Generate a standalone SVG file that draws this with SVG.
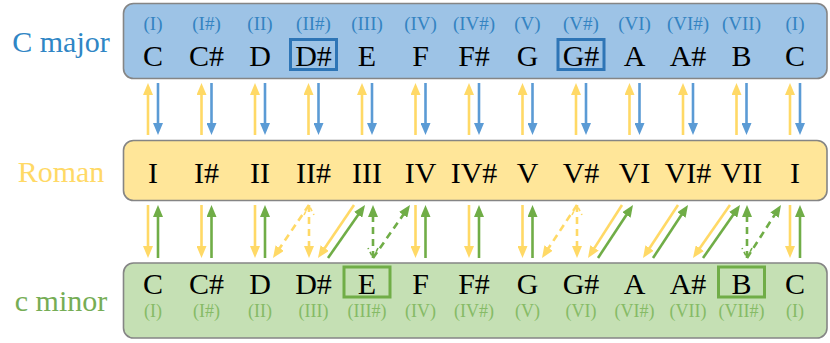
<svg xmlns="http://www.w3.org/2000/svg" width="830" height="343" viewBox="0 0 830 343" font-family="'Liberation Serif', 'Times New Roman', Times, serif">
<defs>
<style>
text{font-family:'Liberation Serif','Times New Roman',Times,serif;text-anchor:middle}
.box{stroke:#858585;stroke-width:1.6}
.big{font-size:30px;fill:#000}
.side{font-size:30px}
.rt{font-size:19px;fill:#3483c2}
.rb{font-size:18px;fill:#86bb66}
.hb{fill:none;stroke:#2e75b6;stroke-width:3}
.hg{fill:none;stroke:#70ad47;stroke-width:3}
.a{stroke-width:2.6;fill:none}
.y{stroke:#ffd966}
.b{stroke:#5b9bd5}
.g{stroke:#70ad47}
.d{stroke-dasharray:7 5}
.uy{marker-end:url(#mY)}
.ub{marker-end:url(#mB)}
.ug{marker-end:url(#mG)}
</style>
<marker id="mY" viewBox="0 0 12 10" refX="2" refY="5" markerWidth="12" markerHeight="10" markerUnits="userSpaceOnUse" orient="auto"><path d="M0,0 L12,5 L0,10 z" fill="#ffd966"/></marker>
<marker id="mB" viewBox="0 0 12 10" refX="2" refY="5" markerWidth="12" markerHeight="10" markerUnits="userSpaceOnUse" orient="auto"><path d="M0,0 L12,5 L0,10 z" fill="#5b9bd5"/></marker>
<marker id="mG" viewBox="0 0 12 10" refX="2" refY="5" markerWidth="12" markerHeight="10" markerUnits="userSpaceOnUse" orient="auto"><path d="M0,0 L12,5 L0,10 z" fill="#70ad47"/></marker>
<marker id="cY" viewBox="-1 -1 12 12" refX="10" refY="5" markerWidth="12" markerHeight="12" markerUnits="userSpaceOnUse" orient="auto-start-reverse"><path d="M0,0 L10,5 L0,10" fill="none" stroke="#ffd966" stroke-width="1.6" stroke-dasharray="4 3"/></marker>
<marker id="cG" viewBox="-1 -1 12 12" refX="10" refY="5" markerWidth="12" markerHeight="12" markerUnits="userSpaceOnUse" orient="auto-start-reverse"><path d="M0,0 L10,5 L0,10" fill="none" stroke="#70ad47" stroke-width="1.6" stroke-dasharray="4 3"/></marker>
</defs>
<rect width="830" height="343" fill="#fff"/>

<g id="c-major">
<rect class="box" x="123.5" y="3.5" width="703.5" height="75" rx="10" fill="#9dc3e6"/>
<text class="side" x="61" y="52" fill="#2f86c5">C major</text>
<g class="rt">
<text x="153" y="30">(I)</text><text x="206.5" y="30">(I#)</text><text x="260" y="30">(II)</text><text x="313.5" y="30">(II#)</text><text x="367" y="30">(III)</text><text x="420.5" y="30">(IV)</text><text x="474" y="30">(IV#)</text><text x="527.5" y="30">(V)</text><text x="581" y="30">(V#)</text><text x="634.5" y="30">(VI)</text><text x="688" y="30">(VI#)</text><text x="741.5" y="30">(VII)</text><text x="795" y="30">(I)</text>
</g>
<g class="big">
<text x="153" y="66">C</text><text x="206.5" y="66">C#</text><text x="260" y="66">D</text><text x="313.5" y="66">D#</text><text x="367" y="66">E</text><text x="420.5" y="66">F</text><text x="474" y="66">F#</text><text x="527.5" y="66">G</text><text x="581" y="66">G#</text><text x="634.5" y="66">A</text><text x="688" y="66">A#</text><text x="741.5" y="66">B</text><text x="795" y="66">C</text>
</g>
<rect class="hb" x="290.5" y="39.5" width="46" height="30"/>
<rect class="hb" x="558" y="39.5" width="46" height="30"/>
</g>

<g id="roman">
<rect class="box" x="123.5" y="140.5" width="703.5" height="60" rx="10" fill="#ffe699"/>
<text class="side" x="61" y="182" fill="#ffd966">Roman</text>
<g class="big">
<text x="153" y="183">I</text><text x="206.5" y="183">I#</text><text x="260" y="183">II</text><text x="313.5" y="183">II#</text><text x="367" y="183">III</text><text x="420.5" y="183">IV</text><text x="474" y="183">IV#</text><text x="527.5" y="183">V</text><text x="581" y="183">V#</text><text x="634.5" y="183">VI</text><text x="688" y="183">VI#</text><text x="741.5" y="183">VII</text><text x="795" y="183">I</text>
</g>
</g>

<g id="c-minor">
<rect class="box" x="123.5" y="263" width="703.5" height="75" rx="10" fill="#c5e0b4"/>
<text class="side" x="61" y="311" fill="#76ad55">c minor</text>
<g class="big">
<text x="153" y="293.5">C</text><text x="206.5" y="293.5">C#</text><text x="260" y="293.5">D</text><text x="313.5" y="293.5">D#</text><text x="367" y="293.5">E</text><text x="420.5" y="293.5">F</text><text x="474" y="293.5">F#</text><text x="527.5" y="293.5">G</text><text x="581" y="293.5">G#</text><text x="634.5" y="293.5">A</text><text x="688" y="293.5">A#</text><text x="741.5" y="293.5">B</text><text x="795" y="293.5">C</text>
</g>
<g class="rb">
<text x="153" y="317">(I)</text><text x="206.5" y="317">(I#)</text><text x="260" y="317">(II)</text><text x="313.5" y="317">(III)</text><text x="367" y="317">(III#)</text><text x="420.5" y="317">(IV)</text><text x="474" y="317">(IV#)</text><text x="527.5" y="317">(V)</text><text x="581" y="317">(VI)</text><text x="634.5" y="317">(VI#)</text><text x="688" y="317">(VII)</text><text x="741.5" y="317">(VII#)</text><text x="795" y="317">(I)</text>
</g>
<rect class="hg" x="344" y="267" width="46" height="30"/>
<rect class="hg" x="718.5" y="267" width="46" height="30"/>
</g>

<g id="connectors">
<g class="a">
<line class="y uy" x1="148" y1="135" x2="148" y2="93"/><line class="b ub" x1="158" y1="83" x2="158" y2="125"/>
<line class="y uy" x1="201.5" y1="135" x2="201.5" y2="93"/><line class="b ub" x1="211.5" y1="83" x2="211.5" y2="125"/>
<line class="y uy" x1="255" y1="135" x2="255" y2="93"/><line class="b ub" x1="265" y1="83" x2="265" y2="125"/>
<line class="y uy" x1="308.5" y1="135" x2="308.5" y2="93"/><line class="b ub" x1="318.5" y1="83" x2="318.5" y2="125"/>
<line class="y uy" x1="362" y1="135" x2="362" y2="93"/><line class="b ub" x1="372" y1="83" x2="372" y2="125"/>
<line class="y uy" x1="415.5" y1="135" x2="415.5" y2="93"/><line class="b ub" x1="425.5" y1="83" x2="425.5" y2="125"/>
<line class="y uy" x1="469" y1="135" x2="469" y2="93"/><line class="b ub" x1="479" y1="83" x2="479" y2="125"/>
<line class="y uy" x1="522.5" y1="135" x2="522.5" y2="93"/><line class="b ub" x1="532.5" y1="83" x2="532.5" y2="125"/>
<line class="y uy" x1="576" y1="135" x2="576" y2="93"/><line class="b ub" x1="586" y1="83" x2="586" y2="125"/>
<line class="y uy" x1="629.5" y1="135" x2="629.5" y2="93"/><line class="b ub" x1="639.5" y1="83" x2="639.5" y2="125"/>
<line class="y uy" x1="683" y1="135" x2="683" y2="93"/><line class="b ub" x1="693" y1="83" x2="693" y2="125"/>
<line class="y uy" x1="736.5" y1="135" x2="736.5" y2="93"/><line class="b ub" x1="746.5" y1="83" x2="746.5" y2="125"/>
<line class="y uy" x1="790" y1="135" x2="790" y2="93"/><line class="b ub" x1="800" y1="83" x2="800" y2="125"/>
</g>
<g class="a">
<line class="y uy" x1="148" y1="205" x2="148" y2="248"/><line class="g ug" x1="158" y1="258" x2="158" y2="215"/>
<line class="y uy" x1="201.5" y1="205" x2="201.5" y2="248"/><line class="g ug" x1="211.5" y1="258" x2="211.5" y2="215"/>
<line class="y uy" x1="255" y1="205" x2="255" y2="248"/><line class="g ug" x1="265" y1="258" x2="265" y2="215"/>
<line class="y uy d" x1="309" y1="205" x2="278.6" y2="249.7"/>
<line class="y uy d" x1="309" y1="205" x2="309" y2="248" marker-start="url(#cY)"/>
<line class="y uy" x1="354" y1="205" x2="323.6" y2="249.7"/>
<line class="g ug" x1="328" y1="258" x2="359.3" y2="213.2"/>
<line class="g ug d" x1="373" y1="258" x2="373" y2="215" marker-start="url(#cG)"/>
<line class="g ug d" x1="373" y1="258" x2="404.3" y2="213.2"/>
<line class="y uy" x1="415.5" y1="205" x2="415.5" y2="248"/><line class="g ug" x1="425.5" y1="258" x2="425.5" y2="215"/>
<line class="y uy" x1="469" y1="205" x2="469" y2="248"/><line class="g ug" x1="479" y1="258" x2="479" y2="215"/>
<line class="y uy" x1="522.5" y1="205" x2="522.5" y2="248"/><line class="g ug" x1="532.5" y1="258" x2="532.5" y2="215"/>
<line class="y uy d" x1="577" y1="205" x2="547.5" y2="249.7"/>
<line class="y uy d" x1="577" y1="205" x2="577" y2="248" marker-start="url(#cY)"/>
<line class="y uy" x1="622" y1="205" x2="593.4" y2="249.6"/>
<line class="g ug" x1="598" y1="258" x2="627.5" y2="213.3"/>
<line class="y uy" x1="678" y1="205" x2="648.5" y2="249.7"/>
<line class="g ug" x1="653" y1="258" x2="682.5" y2="213.3"/>
<line class="y uy" x1="730" y1="205" x2="698.7" y2="249.8"/>
<line class="g ug" x1="703" y1="258" x2="734.3" y2="213.2"/>
<line class="g ug d" x1="747" y1="258" x2="747" y2="215" marker-start="url(#cG)"/>
<line class="g ug d" x1="747" y1="258" x2="775.6" y2="213.4"/>
<line class="y uy" x1="790" y1="205" x2="790" y2="248"/><line class="g ug" x1="800" y1="258" x2="800" y2="215"/>
</g>
</g>
</svg>
